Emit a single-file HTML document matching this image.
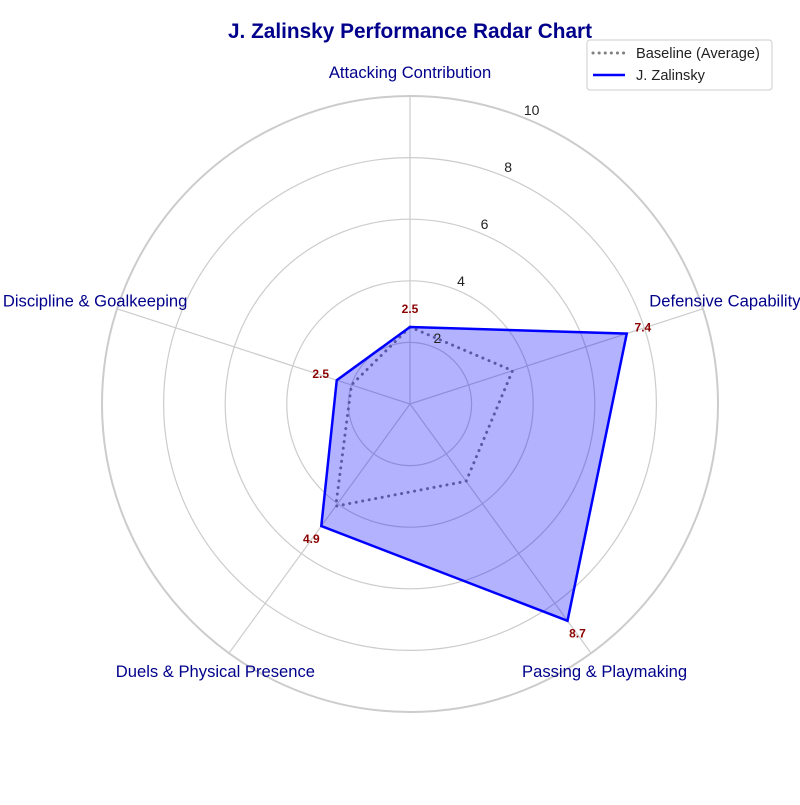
<!DOCTYPE html>
<html><head><meta charset="utf-8"><style>
body{margin:0;background:#fff;}
svg text{font-family:"Liberation Sans",sans-serif;}
</style></head><body>
<svg id="chart" width="800" height="800" viewBox="0 0 800 800" xmlns="http://www.w3.org/2000/svg">
<text x="410" y="38" text-anchor="middle" font-size="20.8" font-weight="bold" fill="#00008b">J. Zalinsky Performance Radar Chart</text>
<g id="grid"></g><g id="series"></g><g id="labels"></g>
<g>
<rect x="587" y="40" width="185" height="50" rx="3" fill="#fff" fill-opacity="0.8" stroke="#ccc"/>
<line x1="593" y1="53" x2="625" y2="53" stroke="#808080" stroke-width="3" stroke-dasharray="0.1,6" stroke-linecap="round"/>
<text x="636" y="58" font-size="14.6" fill="#222">Baseline (Average)</text>
<line x1="593" y1="75" x2="625" y2="75" stroke="#0000ff" stroke-width="2.5"/>
<text x="636" y="80" font-size="14.6" fill="#222">J. Zalinsky</text>
</g>
</svg>
<script>
const categories=["Attacking Contribution","Defensive Capability","Passing & Playmaking","Duels & Physical Presence","Discipline & Goalkeeping"];
const playerValues=[2.5,7.4,8.7,4.9,2.5];
const baselineValues=[2.5,3.5,3.1,4.1,2.0];
const ringTicks=[2,4,6,8,10];
const cx=410,cy=404,R=308,maxV=10;
const NS="http://www.w3.org/2000/svg";
function ang(i){return -Math.PI/2+i*2*Math.PI/categories.length;}
function pt(i,v){const a=ang(i),r=v/maxV*R;return [cx+r*Math.cos(a),cy+r*Math.sin(a)];}
function mk(tag,attrs,parent){const e=document.createElementNS(NS,tag);for(const k in attrs)e.setAttribute(k,attrs[k]);parent.appendChild(e);return e;}
const grid=document.getElementById('grid'),ser=document.getElementById('series'),lab=document.getElementById('labels');
ringTicks.forEach(t=>{const c=mk('circle',{cx:cx,cy:cy,r:t/maxV*R,fill:'none',stroke:'#cccccc','stroke-width':t===maxV?2:1.2},grid);


const a=-Math.PI/2+22.5*Math.PI/180,r=t/maxV*R+10;
const tx=mk('text',{x:cx+r*Math.cos(a),y:cy+r*Math.sin(a)+5,'text-anchor':'middle','font-size':14,fill:'#222'},lab);
tx.textContent=t;

});
categories.forEach((c,i)=>{const p=pt(i,maxV);const l=mk('line',{x1:cx,y1:cy,x2:p[0],y2:p[1],stroke:'#cccccc','stroke-width':1.2},grid);


const q=pt(i,10.75);
const t=mk('text',{x:q[0],y:q[1]+5,'text-anchor':'middle','font-size':16.6,fill:'#00008b'},lab);
t.textContent=c;

});
function poly(vals){return vals.map((v,i)=>pt(i,v).join(',')).join(' ');}
const b=mk('polygon',{points:poly(baselineValues),fill:'none',stroke:'#808080','stroke-width':3,'stroke-dasharray':'0.1,6.5','stroke-linecap':'round'},ser);


const p=mk('polygon',{points:poly(playerValues),fill:'#0000ff','fill-opacity':0.3,stroke:'#0000ff','stroke-width':2.5},ser);


playerValues.forEach((v,i)=>{const q=pt(i,v+0.55);const t=mk('text',{x:q[0],y:q[1]+3,'text-anchor':'middle','font-size':12,'font-weight':'bold',fill:'#8b0000'},lab);
t.textContent=v.toFixed(1);

});
</script>
</body></html>
